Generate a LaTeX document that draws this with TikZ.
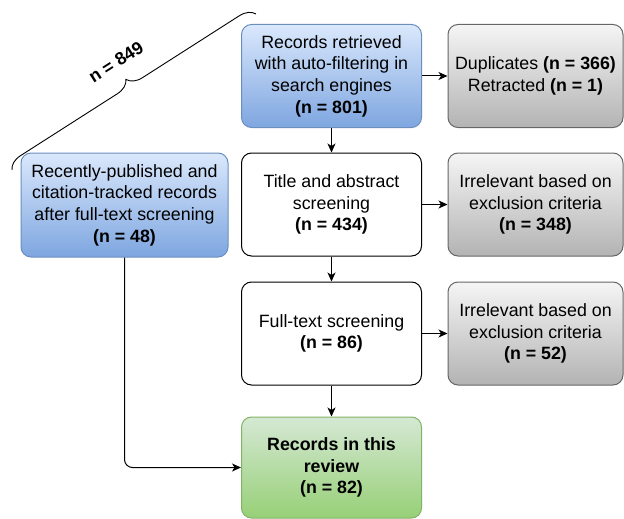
\documentclass[tikz,border=0pt]{standalone}
\usepackage{fontspec}
\setmainfont{Liberation Sans}
\usetikzlibrary{arrows.meta,decorations.pathreplacing}
\definecolor{bluetop}{HTML}{DAE8FC}
\definecolor{bluebot}{HTML}{7EA6E0}
\definecolor{blueline}{HTML}{6C8EBF}
\definecolor{graytop}{HTML}{F5F5F5}
\definecolor{graybot}{HTML}{B3B3B3}
\definecolor{grayline}{HTML}{666666}
\definecolor{greentop}{HTML}{D5E8D4}
\definecolor{greenbot}{HTML}{97D077}
\definecolor{greenline}{HTML}{82B366}
\tikzset{
  box/.style={rounded corners=10pt, align=center, inner sep=0pt, line width=1pt,
    minimum width=180pt, minimum height=103pt,
    font=\fontsize{17.8}{21.7}\selectfont},
  bluebox/.style={box, draw=blueline, top color=bluetop, bottom color=bluebot},
  graybox/.style={box, draw=grayline, top color=graytop, bottom color=graybot, minimum width=175pt},
  whitebox/.style={box, draw=black, fill=white},
  greenbox/.style={box, draw=greenline, top color=greentop, bottom color=greenbot, minimum height=101pt},
  conn/.style={line width=1pt, -{Stealth[length=9pt,width=8pt,inset=2.5pt]}},
}
\begin{document}
\begin{tikzpicture}[x=1pt,y=-1pt]
\useasboundingbox (0,0) rectangle (624,519);
\node[bluebox] (A) at (331.5,76) {Records retrieved\\with auto-filtering in\\search engines\\\textbf{(n = 801)}};
\node[graybox] (D) at (535.5,76) {Duplicates \textbf{(n = 366)}\\Retracted \textbf{(n = 1)}};
\node[whitebox] (T) at (331.5,204.5) {Title and abstract\\screening\\\textbf{(n = 434)}};
\node[graybox] (I1) at (535.5,204.5) {Irrelevant based on\\exclusion criteria\\\textbf{(n = 348)}};
\node[whitebox] (F) at (331.5,333.5) {Full-text screening\\\textbf{(n = 86)}};
\node[graybox] (I2) at (535.5,333.5) {Irrelevant based on\\exclusion criteria\\\textbf{(n = 52)}};
\node[greenbox] (R) at (331.5,467.5) {\textbf{Records in this}\\\textbf{review}\\\textbf{(n = 82)}};
\node[bluebox, minimum width=207pt, minimum height=104pt] (L) at (124.5,205) {Recently-published and\\citation-tracked records\\after full-text screening\\\textbf{(n = 48)}};
\draw[conn] (A) -- (D);
\draw[conn] (A) -- (T);
\draw[conn] (T) -- (I1);
\draw[conn] (T) -- (F);
\draw[conn] (F) -- (I2);
\draw[conn] (F) -- (R);
\draw[conn, rounded corners=8pt] (L.south) |- (R.west);
\coordinate (b1) at (12,170);
\coordinate (b2) at (256,14);
\draw[line width=0.9pt, decorate, decoration={brace, amplitude=15pt}] (b1) -- (b2);
\node[rotate=32.6, font=\fontsize{17.8}{21}\selectfont\bfseries] (lab) at (116,62) {n = 849};
\end{tikzpicture}
\end{document}
